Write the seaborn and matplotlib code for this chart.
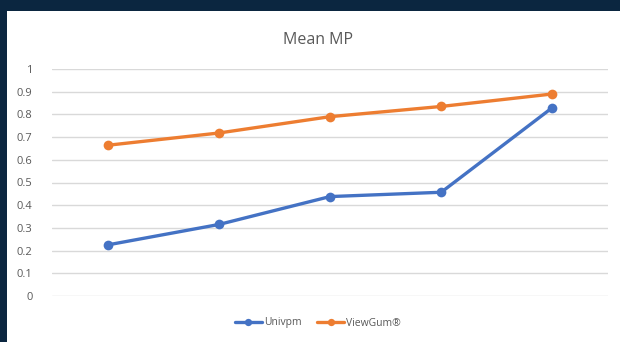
import matplotlib
matplotlib.use("Agg")
import matplotlib.pyplot as plt
import matplotlib.patches as mpatches
import seaborn as sns
import pandas as pd

# data
sessions = ["1", "2", "3", "4", "5"]
univpm = [0.225, 0.315, 0.438, 0.457, 0.83]
viewgum = [0.664, 0.718, 0.79, 0.835, 0.89]
series_names = ["Univpm", "ViewGum\u00ae"]
colors = ["#4472C4", "#ED7D31"]
yticks = [0, 0.1, 0.2, 0.3, 0.4, 0.5, 0.6, 0.7, 0.8, 0.9, 1]
ytick_labels = ["0", "0.1", "0.2", "0.3", "0.4", "0.5", "0.6", "0.7", "0.8", "0.9", "1"]

df = pd.DataFrame({
    "session": sessions * 2,
    "value": univpm + viewgum,
    "series": [series_names[0]] * len(sessions) + [series_names[1]] * len(sessions),
})

sns.set_style("white")
plt.rcParams["font.family"] = ["Open Sans", "DejaVu Sans"]

W, H = 620, 342
fig = plt.figure(figsize=(W / 100, H / 100), dpi=100)
fig.patch.set_facecolor("#0b2640")
# white chart panel
fig.add_artist(mpatches.Rectangle((7 / W, 0), (W - 7) / W, (H - 11) / H,
                                  transform=fig.transFigure, facecolor="white",
                                  edgecolor="none", zorder=0))

ax = fig.add_axes([52 / W, (H - 296) / H, (608 - 52) / W, (296 - 69) / H])
ax.set_facecolor("none")

sns.lineplot(data=df, x="session", y="value", hue="series", palette=colors,
             marker="o", markersize=7, markeredgewidth=0, linewidth=2.4,
             sort=False, ax=ax, clip_on=False, zorder=3)

ax.set_xlim(-0.5, len(sessions) - 0.5)
ax.set_ylim(0, 1)
ax.set_yticks(yticks)
ax.set_yticklabels(ytick_labels)
ax.set_xticks([])
ax.set_xlabel("")
ax.set_ylabel("")
ax.grid(axis="y", color="#d9d9d9", linewidth=1)
ax.set_axisbelow(True)
for s in ax.spines.values():
    s.set_visible(False)
ax.tick_params(axis="y", length=0, pad=14, labelsize=8, labelcolor="#595959")

fig.text(318 / W, 1 - 40 / H, "Mean MP", ha="center", va="center",
         fontsize=11.5, color="#595959")

handles, labels = ax.get_legend_handles_labels()
ax.legend(handles, labels, loc="center", bbox_to_anchor=(318 / W, 1 - 323 / H),
          bbox_transform=fig.transFigure, ncol=2, frameon=False, fontsize=7.5,
          handlelength=2.6, columnspacing=1.5, handletextpad=0.2,
          markerscale=0.75, labelcolor="#595959")

fig.savefig("out.png", dpi=100, facecolor=fig.get_facecolor())
